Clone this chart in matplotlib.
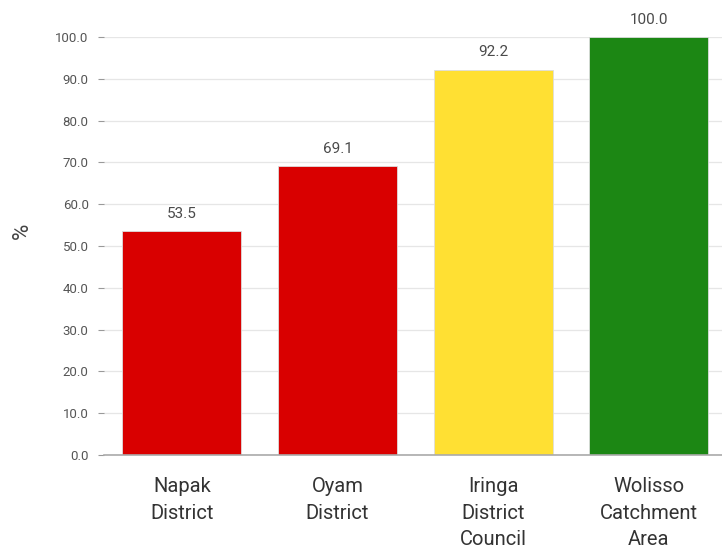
import matplotlib.pyplot as plt

categories = ["Napak\nDistrict", "Oyam\nDistrict", "Iringa\nDistrict\nCouncil", "Wolisso\nCatchment\nArea"]
values = [53.5, 69.1, 92.2, 100.0]
colors = ["#D90000", "#D90000", "#FFE033", "#1C8714"]
yticks = [0, 10, 20, 30, 40, 50, 60, 70, 80, 90, 100]

plt.rcParams["font.family"] = ["Roboto", "DejaVu Sans"]

fig = plt.figure(figsize=(7.22, 5.5), dpi=100)
ax = fig.add_axes([104 / 722, 95 / 550, 618 / 722, 418 / 550])

x = range(len(categories))
bars = ax.bar(x, values, width=0.765, color=colors, edgecolor="#dddddd", linewidth=0.6, zorder=3)

for b, v in zip(bars, values):
    ax.text(b.get_x() + b.get_width() / 2, v + 2.5, f"{v:.1f}", ha="center", va="bottom",
            fontsize=11, color="#4a4a4a", clip_on=False)

ax.set_xlim(-0.5, 3.47)
ax.set_ylim(0, 100)
ax.set_yticks(yticks)
ax.set_yticklabels([f"{t:.1f}" for t in yticks], fontsize=9.5, color="#555555")
ax.set_xticks(list(x))
ax.set_xticklabels(categories, fontsize=14.5, color="#333333", linespacing=1.5, va="top")
ax.tick_params(axis="x", length=0, pad=16)
ax.tick_params(axis="y", length=4, color="#999999", pad=7)
ax.yaxis.grid(True, color="#e6e6e6", linewidth=0.9, zorder=0)
for s in ["top", "right", "left"]:
    ax.spines[s].set_visible(False)
ax.spines["bottom"].set_color("#aaaaaa")
ax.spines["bottom"].set_linewidth(1.2)
ax.spines["bottom"].set_zorder(4)

ax.set_ylabel("%", fontsize=16, color="#444444", rotation=90, va="center", ha="center")
ax.yaxis.set_label_coords(-82 / 618, 0.536)

fig.savefig("out.png", dpi=100)
